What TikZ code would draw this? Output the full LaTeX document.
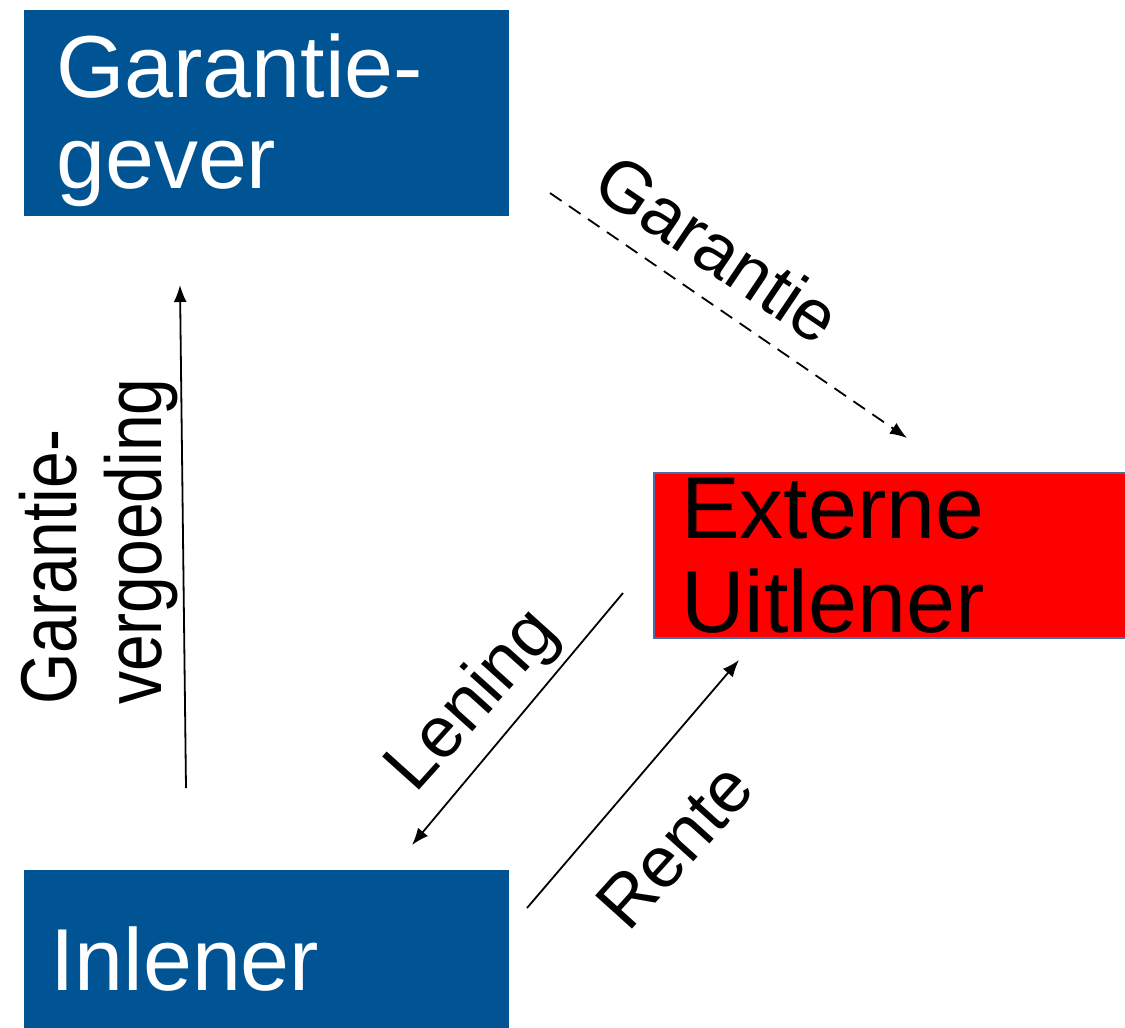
\documentclass[tikz,border=0pt]{standalone}
\usepackage{fontspec}
\setmainfont{Liberation Sans}
\usetikzlibrary{arrows.meta}
\definecolor{boxblue}{RGB}{0,84,148}
\definecolor{boxred}{RGB}{255,0,0}
\definecolor{edgeblue}{RGB}{70,110,170}
\begin{document}
\begin{tikzpicture}[x=1pt,y=-1pt,
  bluebox/.style={fill=boxblue, draw=none, inner sep=0pt, anchor=north west},
  redbox/.style={fill=boxred, draw=edgeblue, line width=1.5pt, inner sep=0pt, anchor=north west},
  whitetext/.style={inner sep=0pt, anchor=base west, text=white, font=\fontsize{88}{90}\selectfont},
  blacktext/.style={inner sep=0pt, anchor=base west, text=black, font=\fontsize{88}{90}\selectfont},
  lbl/.style={inner sep=0pt, font=\fontsize{72}{80}\selectfont},
  vlbl/.style={inner sep=0pt, rotate=90, anchor=base west, font=\fontsize{66}{70}\selectfont},
  flow/.style={-{Latex[length=17pt,width=13pt]}, line width=1.8pt},
  dashflow/.style={flow, dash pattern=on 14pt off 9pt}
]
\useasboundingbox (0,0) rectangle (1125,1028);
% boxes
\node[bluebox, minimum width=485pt, minimum height=206pt] (gg) at (24,10) {};
\node[redbox, minimum width=490pt, minimum height=165pt] (eu) at (653,472) {};
\node[bluebox, minimum width=485pt, minimum height=170pt] (in) at (24,870) {};
% box texts
\node[whitetext] (gg1) at (56,97) {Garantie-};
\node[whitetext] (gg2) at (56,188) {gever};
\node[blacktext] (eu1) at (681,538) {Externe};
\node[blacktext] (eu2) at (681,632) {Uitlener};
\node[whitetext] (in1) at (50,990) {Inlener};
% connector end points
\coordinate (a1) at (186,788);
\coordinate (a2) at (180,285);
\coordinate (b1) at (550,193);
\coordinate (b2) at (907,438);
\coordinate (c1) at (623,593);
\coordinate (c2) at (412,845);
\coordinate (d1) at (527,908);
\coordinate (d2) at (739,660);
% connectors
\draw[flow] (a1) -- (a2);
\draw[dashflow] (b1) -- (b2);
\draw[flow] (c1) -- (c2);
\draw[flow] (d1) -- (d2);
% labels
\node[vlbl] (lab1) at (76,705) {\scalebox{1}[1.2]{Garantie-}};
\node[vlbl] (lab2) at (161,705) {\scalebox{1}[1.2]{vergoeding}};
\node[lbl, rotate=-34] (lab3) at (718,248) {Garantie};
\node[lbl, rotate=48] (lab4) at (474,702) {Lening};
\node[lbl, rotate=48] (lab5) at (675,846) {Rente};
\end{tikzpicture}
\end{document}
